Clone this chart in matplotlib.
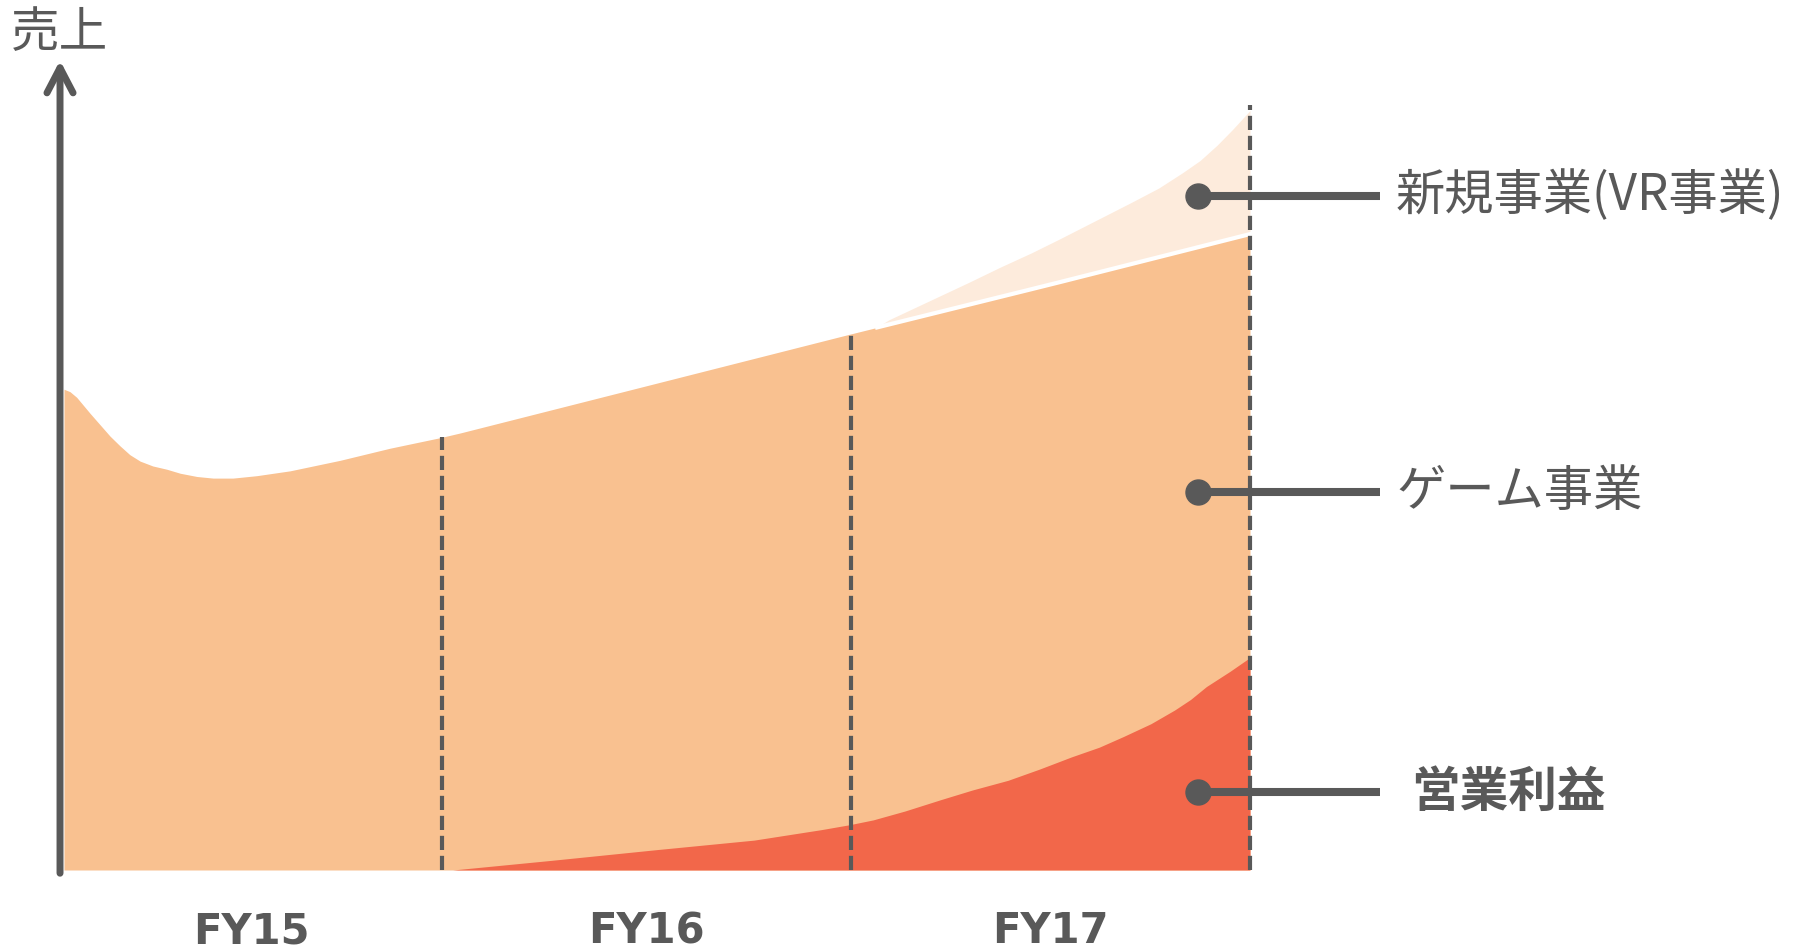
import numpy as np
import matplotlib
matplotlib.use("Agg")
import matplotlib.pyplot as plt

plt.rcParams['font.family'] = ['Noto Sans CJK JP', 'DejaVu Sans']

# fiscal year axis (x in years from start), sales index (y)
fy_labels = ["FY15", "FY16", "FY17"]
fy_edges = [0.0, 0.963, 1.994, 3.0]

# game business (total sales top edge)
game_x = [0.010, 0.025, 0.042, 0.059, 0.076, 0.101, 0.126, 0.151, 0.176, 0.202,
          0.234, 0.269, 0.303, 0.345, 0.386, 0.436, 0.496, 0.580, 0.706, 0.832,
          0.958, 1.010, 1.460, 1.990, 2.500, 3.000]
game_y = [59.5, 59.2, 58.5, 57.5, 56.5, 55.1, 53.7, 52.5, 51.4, 50.6,
          50.0, 49.6, 49.1, 48.7, 48.5, 48.5, 48.8, 49.4, 50.7, 52.2,
          53.5, 54.1, 59.7, 66.3, 72.5, 78.7]

# new business (VR) stacked on top of game
vr_x = [2.06, 2.09, 2.19, 2.29, 2.37, 2.45, 2.52, 2.58, 2.64, 2.70, 2.77, 2.83,
        2.874, 2.917, 2.957, 3.00]
vr_y = [67.2, 68.1, 70.4, 72.7, 74.6, 76.4, 78.1, 79.6, 81.1, 82.6, 84.4, 86.3,
        87.8, 89.7, 91.7, 94.0]

# operating profit
op_x = [0.99, 1.24, 1.50, 1.75, 1.92, 1.99, 2.05, 2.13, 2.22, 2.30, 2.39, 2.47,
        2.55, 2.62, 2.68, 2.75, 2.81, 2.85, 2.89, 2.95, 3.00]
op_y = [0.0, 1.2, 2.5, 3.7, 5.0, 5.6, 6.2, 7.3, 8.7, 9.9, 11.1, 12.5,
        14.0, 15.2, 16.5, 18.1, 19.8, 21.1, 22.7, 24.6, 26.3]

labels = ["新規事業(VR事業)", "ゲーム事業", "営業利益"]
label_y = [83.4, 46.8, 9.65]

gray = "#595959"
c_game = "#F9C190"
c_vr = "#FDEBDC"
c_op = "#F2674A"

fig = plt.figure(figsize=(17.94, 9.49), dpi=100)
ax = fig.add_axes([0, 0, 1, 1])
ax.set_xlim(-0.1513, 4.3714)
ax.set_ylim(-9.777, 107.67)
ax.axis("off")

# areas
ax.fill_between(game_x, 0, game_y, color=c_game, lw=0, zorder=1)
vr_low = np.interp(vr_x, game_x, game_y)
ax.fill_between(vr_x, vr_low, vr_y, color=c_vr, lw=0, zorder=1)
ax.plot(vr_x, vr_low, color="white", lw=3, zorder=2)
ax.fill_between(op_x, 0, op_y, color=c_op, lw=0, zorder=2)

# fiscal year boundaries
for i, xb in enumerate(fy_edges[1:]):
    top = np.interp(xb, game_x, game_y) if i < 2 else 94.7
    ax.plot([xb, xb], [0, top], color=gray, lw=3.0, ls=(0, (3.4, 1.4)), zorder=3)

for i, lab in enumerate(fy_labels):
    xc = (fy_edges[i] + fy_edges[i + 1]) / 2
    ax.text(xc, -7.6, lab, ha="center", va="center", fontsize=30,
            fontweight="bold", color=gray, family="DejaVu Sans")

# y axis with arrow
ax.annotate("", xy=(0, 100.2), xytext=(0, -0.4),
            arrowprops=dict(arrowstyle="->,head_length=0.9,head_width=0.47",
                            mutation_scale=20, lw=5, color=gray,
                            capstyle="round", joinstyle="round",
                            shrinkA=0, shrinkB=0))
ax.text(0, 103.6, "売上", ha="center", va="center", fontsize=35, color=gray)

# labels with connectors
for i, (lab, ly) in enumerate(zip(labels, label_y)):
    ax.plot([2.869, 3.328], [ly, ly], color=gray, lw=5.8, zorder=4,
            solid_capstyle="butt")
    ax.plot(2.869, ly, "o", color=gray, ms=18, zorder=5)
    if i == 2:
        ax.text(3.406, ly, lab, ha="left", va="center", fontsize=35,
                fontweight="bold", color=gray)
    else:
        ax.text(3.368, ly, lab, ha="left", va="center", fontsize=35.5, color=gray)

fig.savefig("out.png", dpi=100)
